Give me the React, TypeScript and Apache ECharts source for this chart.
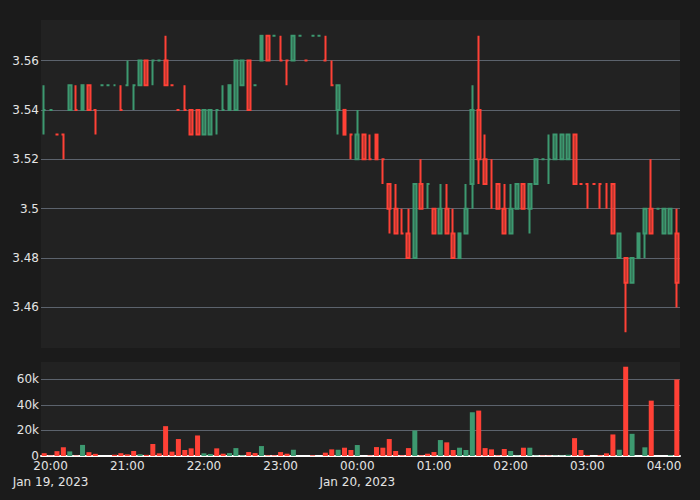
import { useEffect, useRef } from 'react';
import * as echarts from 'echarts';

// 5-minute candles, starting 2023-01-19 19:55
const START = Date.UTC(2023, 0, 19, 19, 55);
const STEP = 5 * 60 * 1000;

const opens = [
  3.54, 3.54, 3.53, 3.53, 3.54, 3.54, 3.54, 3.55, 3.54, 3.55,
  3.55, 3.55, 3.54, 3.55, 3.55, 3.55, 3.56, 3.56, 3.56, 3.56,
  3.55, 3.54, 3.54, 3.54, 3.54, 3.53, 3.53, 3.54, 3.54, 3.54,
  3.54, 3.55, 3.56, 3.55, 3.56, 3.57, 3.57, 3.56, 3.56, 3.56,
  3.57, 3.56, 3.57, 3.57, 3.56, 3.55, 3.54, 3.54, 3.53, 3.52,
  3.53, 3.52, 3.53, 3.52, 3.51, 3.50, 3.49, 3.49, 3.48, 3.51,
  3.51, 3.50, 3.49, 3.50, 3.49, 3.48, 3.49, 3.51, 3.54, 3.52,
  3.51, 3.51, 3.50, 3.49, 3.50, 3.51, 3.50, 3.51, 3.52, 3.52,
  3.52, 3.52, 3.52, 3.53, 3.51, 3.51, 3.51, 3.51, 3.51, 3.51,
  3.48, 3.48, 3.47, 3.48, 3.49, 3.50, 3.50, 3.49, 3.49, 3.49,
];
const closes = [
  3.54, 3.54, 3.53, 3.53, 3.55, 3.54, 3.55, 3.54, 3.54, 3.55,
  3.55, 3.55, 3.54, 3.55, 3.55, 3.56, 3.55, 3.56, 3.56, 3.55,
  3.55, 3.54, 3.54, 3.53, 3.53, 3.54, 3.54, 3.54, 3.54, 3.55,
  3.56, 3.56, 3.54, 3.55, 3.57, 3.56, 3.57, 3.56, 3.56, 3.57,
  3.57, 3.56, 3.57, 3.57, 3.56, 3.55, 3.55, 3.53, 3.53, 3.53,
  3.52, 3.52, 3.52, 3.52, 3.50, 3.49, 3.49, 3.48, 3.51, 3.50,
  3.51, 3.49, 3.50, 3.49, 3.48, 3.49, 3.50, 3.54, 3.52, 3.51,
  3.51, 3.50, 3.49, 3.50, 3.51, 3.50, 3.51, 3.52, 3.52, 3.52,
  3.53, 3.53, 3.53, 3.51, 3.51, 3.51, 3.51, 3.51, 3.51, 3.49,
  3.49, 3.47, 3.48, 3.49, 3.50, 3.49, 3.50, 3.50, 3.50, 3.47,
];
const lows = [
  3.53, 3.54, 3.53, 3.52, 3.54, 3.54, 3.54, 3.54, 3.53, 3.55,
  3.55, 3.55, 3.54, 3.55, 3.54, 3.55, 3.55, 3.55, 3.56, 3.55,
  3.55, 3.54, 3.54, 3.53, 3.53, 3.53, 3.53, 3.53, 3.54, 3.54,
  3.54, 3.55, 3.54, 3.55, 3.56, 3.56, 3.57, 3.56, 3.55, 3.56,
  3.57, 3.56, 3.57, 3.57, 3.56, 3.55, 3.53, 3.53, 3.52, 3.52,
  3.52, 3.52, 3.52, 3.51, 3.49, 3.49, 3.49, 3.48, 3.48, 3.50,
  3.50, 3.49, 3.49, 3.49, 3.48, 3.48, 3.49, 3.50, 3.51, 3.51,
  3.50, 3.50, 3.49, 3.49, 3.50, 3.50, 3.49, 3.51, 3.52, 3.51,
  3.52, 3.52, 3.52, 3.51, 3.51, 3.50, 3.51, 3.50, 3.50, 3.49,
  3.48, 3.45, 3.47, 3.48, 3.48, 3.49, 3.50, 3.49, 3.49, 3.46,
];
const highs = [
  3.55, 3.54, 3.53, 3.53, 3.55, 3.55, 3.55, 3.55, 3.54, 3.55,
  3.55, 3.55, 3.55, 3.56, 3.55, 3.56, 3.56, 3.56, 3.56, 3.57,
  3.55, 3.54, 3.55, 3.54, 3.54, 3.54, 3.54, 3.54, 3.55, 3.55,
  3.56, 3.56, 3.56, 3.55, 3.57, 3.57, 3.57, 3.57, 3.56, 3.57,
  3.57, 3.56, 3.57, 3.57, 3.57, 3.56, 3.55, 3.54, 3.53, 3.54,
  3.53, 3.53, 3.53, 3.52, 3.51, 3.51, 3.50, 3.50, 3.51, 3.52,
  3.51, 3.50, 3.51, 3.51, 3.50, 3.49, 3.51, 3.55, 3.57, 3.53,
  3.52, 3.51, 3.51, 3.51, 3.51, 3.51, 3.51, 3.52, 3.52, 3.53,
  3.53, 3.53, 3.53, 3.53, 3.51, 3.51, 3.51, 3.51, 3.51, 3.51,
  3.49, 3.48, 3.48, 3.49, 3.50, 3.52, 3.50, 3.50, 3.50, 3.50,
];
const volumes = [
  2200, 300, 3800, 6900, 3600, 300, 8700, 3000, 1700, 0,
  0, 1000, 2200, 1300, 3900, 1400, 900, 9400, 2100, 23400,
  3400, 13300, 4700, 6000, 16100, 2100, 1600, 6000, 1800, 2300,
  6200, 500, 3100, 2300, 7800, 500, 500, 3100, 1800, 4900,
  0, 0, 500, 0, 2600, 5200, 4900, 6500, 4700, 8600,
  0, 400, 7000, 6500, 13300, 3900, 500, 6200, 20000, 500,
  1800, 3100, 12500, 10700, 4700, 6500, 4700, 34300, 35600, 6200,
  5200, 500, 5500, 3900, 300, 6500, 6500, 300, 300, 300,
  300, 300, 1000, 14000, 4700, 800, 0, 500, 2100, 16900,
  4900, 70000, 17400, 0, 6800, 43400, 0, 0, 600, 60000,
];

const priceTicks = [3.46, 3.48, 3.5, 3.52, 3.54, 3.56];
const volumeTicks = [0, 20000, 40000, 60000];
const FIRST_HOUR = Date.UTC(2023, 0, 19, 20, 0);
const xTickTimes = [0, 1, 2, 3, 4, 5, 6, 7, 8].map((k) => FIRST_HOUR + k * 3600000);
const xTickLabels = [
  '20:00\nJan 19, 2023', '21:00', '22:00', '23:00', '00:00\nJan 20, 2023',
  '01:00', '02:00', '03:00', '04:00',
];

const PRICE_MIN = 3.4436;
const PRICE_MAX = 3.5764;
const VOLUME_MAX = 73700;

const UP = '#3D9970';
const DOWN = '#FF4136';
const UP_FILL = 'rgba(61,153,112,0.5)';
const DOWN_FILL = 'rgba(255,65,54,0.5)';
const GRID_COLOR = '#5c636d';
const TEXT_COLOR = '#e4e4e4';
const FONT = 'DejaVu Sans';

export default function App() {
  const ref = useRef<HTMLDivElement>(null);

  useEffect(() => {
    if (!ref.current) return;
    const chart = echarts.init(ref.current, null, { renderer: 'svg' });

    // direction rule: close vs open; on equality compare with previous close, else keep
    let inc = true;
    let prev: number | null = null;
    const dirs = opens.map((o, i) => {
      const c = closes[i];
      if (c === o) {
        if (prev !== null && c !== prev) inc = c > prev;
      } else inc = c > o;
      prev = c;
      return inc;
    });

    const times = opens.map((_, i) => START + i * STEP);

    const candleData = opens.map((o, i) => {
      const line = dirs[i] ? UP : DOWN;
      const fill = dirs[i] ? UP_FILL : DOWN_FILL;
      return {
        value: [times[i], o, closes[i], lows[i], highs[i]],
        itemStyle: {
          color: fill,
          color0: fill,
          borderColor: line,
          borderColor0: line,
          borderColorDoji: line,
        },
      };
    });

    const volumeData = volumes.map((v, i) => ({
      value: [times[i], v],
      itemStyle: { color: closes[i] > opens[i] ? UP : DOWN },
    }));

    const xMin = START - STEP / 2;
    const xMax = START + (opens.length - 1) * STEP + STEP / 2;

    const labelStyle = { color: TEXT_COLOR, fontFamily: FONT, fontSize: 12 };

    chart.setOption({
      animation: false,
      backgroundColor: '#1b1b1b',
      textStyle: { fontFamily: FONT },
      grid: [
        { left: 41, right: 20, top: 20, height: 328, show: true, backgroundColor: '#222222', borderWidth: 0 },
        { left: 41, right: 20, top: 362, height: 94, show: true, backgroundColor: '#222222', borderWidth: 0 },
      ],
      xAxis: [
        {
          type: 'value', gridIndex: 0, min: xMin, max: xMax,
          axisLine: { show: false }, axisTick: { show: false }, axisLabel: { show: false },
          splitLine: { show: false },
        },
        {
          type: 'value', gridIndex: 1, min: xMin, max: xMax,
          axisLine: { show: true, onZero: false, lineStyle: { color: '#ffffff', width: 2 } },
          axisTick: { show: false, customValues: xTickTimes },
          axisLabel: {
            ...labelStyle,
            customValues: xTickTimes,
            margin: 2,
            lineHeight: 16,
            formatter: (v: number) => {
              const k = xTickTimes.indexOf(v);
              return k >= 0 ? xTickLabels[k] : '';
            },
          },
          splitLine: { show: false },
        },
      ],
      yAxis: [
        {
          type: 'value', gridIndex: 0, min: PRICE_MIN, max: PRICE_MAX,
          axisLine: { show: false },
          axisTick: { show: false, customValues: priceTicks },
          axisLabel: {
            ...labelStyle,
            customValues: priceTicks,
            margin: 2,
            formatter: (v: number) => String(+v.toFixed(2)),
          },
          splitLine: { show: true, lineStyle: { color: GRID_COLOR, width: 1 } },
        },
        {
          type: 'value', gridIndex: 1, min: 0, max: VOLUME_MAX,
          axisLine: { show: false },
          axisTick: { show: false, customValues: volumeTicks },
          axisLabel: {
            ...labelStyle,
            customValues: volumeTicks,
            margin: 2,
            formatter: (v: number) => (v === 0 ? '0' : `${Math.round(v / 1000)}k`),
          },
          splitLine: { show: true, lineStyle: { color: GRID_COLOR, width: 1 } },
        },
      ],
      series: [
        {
          type: 'candlestick',
          xAxisIndex: 0,
          yAxisIndex: 0,
          barWidth: 3.4,
          itemStyle: { borderWidth: 2 },
          data: candleData,
        },
        {
          type: 'bar',
          xAxisIndex: 1,
          yAxisIndex: 1,
          barWidth: 5,
          data: volumeData,
          z: 1,
        },
      ],
    });

    return () => chart.dispose();
  }, []);

  return (
    <div
      ref={ref}
      style={{ position: 'absolute', left: 0, top: 0, width: 700, height: 500 }}
    />
  );
}
